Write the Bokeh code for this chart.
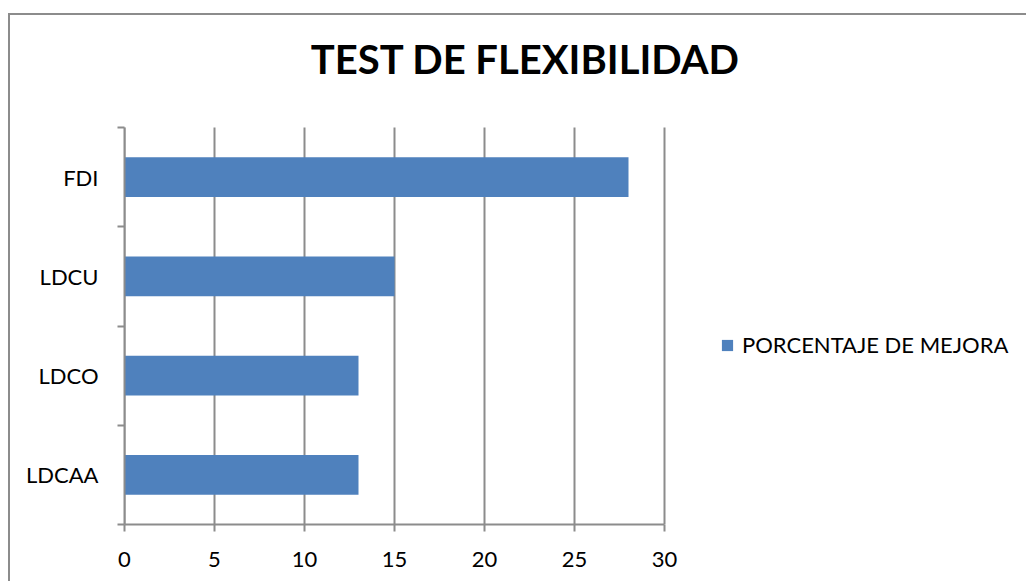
from bokeh.plotting import figure
from bokeh.models import Range1d, FixedTicker, Label, Legend, LegendItem
from bokeh.embed import file_html
from bokeh.resources import INLINE

# ---- data (bottom to top) ----
categories = ["LDCAA", "LDCO", "LDCU", "FDI"]
values = [13, 13, 15, 28]
series_name = "PORCENTAJE DE MEJORA"
title_text = "TEST DE FLEXIBILIDAD"
x_ticks = [0, 5, 10, 15, 20, 25, 30]
x_max = 30

FONT = "Lato"
GRAY = "#8c8c8c"
BAR = "#4F81BD"

# canvas geometry
W, H = 1018, 568
MB_L, MB_R, MB_T, MB_B = 114, 5, 5, 59
axis_px = 540          # pixel length of the 0..30 axis
cat_px = 397           # pixel length of the category axis
frame_w = W - MB_L - MB_R
frame_h = H - MB_T - MB_B
n = len(categories)
x_end = x_max * frame_w / axis_px
y_end = n * frame_h / cat_px

p = figure(width=W, height=H, output_backend="svg", toolbar_location=None,
           x_range=Range1d(0, x_end), y_range=Range1d(0, y_end),
           min_border_left=MB_L, min_border_right=MB_R,
           min_border_top=MB_T, min_border_bottom=MB_B)
p.styles = {"border-left": f"2px solid {GRAY}", "border-top": f"2px solid {GRAY}",
            "margin-top": "13px", "margin-left": "8px"}
p.outline_line_color = None
p.background_fill_color = "white"
p.border_fill_color = "white"

centers = [i + 0.5 for i in range(n)]
bounds = list(range(n + 1))

# vertical grid lines limited to the category extent
p.xgrid.grid_line_color = None
p.ygrid.grid_line_color = None
p.segment(x0=x_ticks, y0=[0] * len(x_ticks), x1=x_ticks, y1=[n] * len(x_ticks),
          line_color=GRAY, line_width=2)

r = p.hbar(y=centers, right=values, left=0, height=0.4,
           fill_color=BAR, line_color=None)

# y axis
ya = p.yaxis[0]
ya.bounds = (0, n)
ya.ticker = FixedTicker(ticks=centers, minor_ticks=bounds)
ya.major_label_overrides = {c: name for c, name in zip(centers, categories)}
ya.major_tick_line_color = None
ya.major_tick_out = 0
ya.major_tick_in = 0
ya.minor_tick_line_color = GRAY
ya.minor_tick_line_width = 2
ya.minor_tick_out = 7
ya.minor_tick_in = 0
ya.axis_line_color = GRAY
ya.axis_line_width = 2
ya.major_label_standoff = 19
ya.major_label_text_font = FONT
ya.major_label_text_font_size = "22px"
ya.major_label_text_color = "black"

# x axis
xa = p.xaxis[0]
xa.bounds = (0, x_max)
xa.ticker = FixedTicker(ticks=x_ticks)
xa.major_tick_line_color = GRAY
xa.major_tick_line_width = 2
xa.major_tick_out = 7
xa.major_tick_in = 0
xa.minor_tick_line_color = None
xa.axis_line_color = GRAY
xa.axis_line_width = 2
xa.major_label_standoff = 20
xa.major_label_text_font = FONT
xa.major_label_text_font_size = "22px"
xa.major_label_text_color = "black"

# title (screen units relative to the frame's bottom-left)
p.add_layout(Label(x=401, y=466, x_units="screen", y_units="screen",
                   text=title_text, text_align="center",
                   text_baseline="alphabetic", text_font=FONT,
                   text_font_style="bold", text_font_size="40px",
                   text_color="black"))

# legend
legend = Legend(items=[LegendItem(label=series_name, renderers=[r])],
                location=(596, 166), padding=0, margin=0,
                glyph_width=14, glyph_height=14, label_standoff=8,
                label_text_font=FONT, label_text_font_size="22px",
                label_text_color="black",
                border_line_color=None, background_fill_alpha=0)
p.add_layout(legend, "center")

open("out.html", "w").write(file_html(p, INLINE))
